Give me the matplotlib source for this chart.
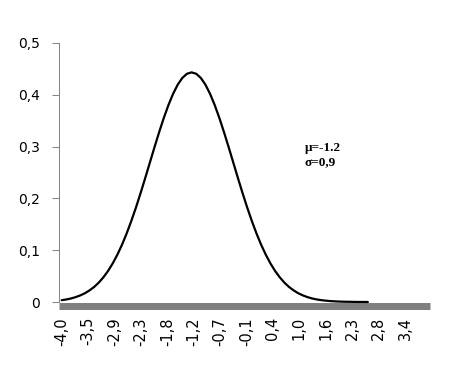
import numpy as np
import matplotlib
matplotlib.use("Agg")
import matplotlib.pyplot as plt

# Data (density curve, mu=-1.2, sigma=0.9)
x_vals = [-4.0, -3.9, -3.8, -3.7, -3.6, -3.5, -3.4, -3.3, -3.2, -3.1,
          -3.0, -2.9, -2.8, -2.7, -2.6, -2.5, -2.4, -2.3, -2.2, -2.1,
          -2.0, -1.9, -1.8, -1.7, -1.6, -1.5, -1.4, -1.3, -1.2, -1.1,
          -1.0, -0.9, -0.8, -0.7, -0.6, -0.5, -0.4, -0.3, -0.2, -0.1,
          0.0, 0.1, 0.2, 0.3, 0.4, 0.5, 0.6, 0.7, 0.8, 0.9,
          1.0, 1.1, 1.2, 1.3, 1.4, 1.5, 1.6, 1.7, 1.8, 1.9,
          2.0, 2.1, 2.2, 2.3, 2.4, 2.5, 2.6]
y_vals = [0.0035, 0.0049, 0.0068, 0.0094, 0.0127, 0.0169, 0.0224, 0.0291, 0.0375, 0.0478,
          0.0600, 0.0745, 0.0913, 0.1105, 0.1322, 0.1562, 0.1822, 0.2100, 0.2391, 0.2689,
          0.2987, 0.3276, 0.3550, 0.3799, 0.4016, 0.4194, 0.4325, 0.4406, 0.4433, 0.4406,
          0.4325, 0.4194, 0.4016, 0.3799, 0.3550, 0.3276, 0.2987, 0.2689, 0.2391, 0.2100,
          0.1822, 0.1562, 0.1322, 0.1105, 0.0913, 0.0745, 0.0600, 0.0478, 0.0375, 0.0291,
          0.0224, 0.0169, 0.0127, 0.0094, 0.0068, 0.0049, 0.0035, 0.0025, 0.0017, 0.0012,
          0.0008, 0.0005, 0.0004, 0.0002, 0.0001, 0.0001, 0.0000]

x_tick_labels = ["-4,0", "-3,5", "-2,9", "-2,3", "-1,8", "-1,2", "-0,7",
                 "-0,1", "0,4", "1,0", "1,6", "2,3", "2,8", "3,4"]
y_ticks = [0, 0.1, 0.2, 0.3, 0.4, 0.5]
y_tick_labels = ["0", "0,1", "0,2", "0,3", "0,4", "0,5"]
annotation = "\u03bc=-1.2\n\u03c3=0,9"

W, H = 452, 381
fig = plt.figure(figsize=(W / 100, H / 100), dpi=100)
ax = fig.add_axes([59 / W, (H - 302) / H, (430 - 59) / W, (302 - 43) / H])

# spines first (set_position resets tick styling)
for s in ["top", "right"]:
    ax.spines[s].set_visible(False)
ax.spines["bottom"].set_position(("outward", 2.52))
ax.spines["left"].set_color("#868686")
ax.spines["left"].set_linewidth(0.75)
ax.spines["bottom"].set_color("#808080")
ax.spines["bottom"].set_linewidth(5.04)
ax.spines["bottom"].set_capstyle("butt")

ax.plot(x_vals, y_vals, color="black", lw=1.6, clip_on=False, zorder=5,
        solid_joinstyle="round", solid_capstyle="round")

ax.set_xlim(-4.058, 3.94)
ax.set_ylim(0, 0.5)

tick_pos = np.linspace(-4.0, 3.4, len(x_tick_labels))
ax.set_xticks(tick_pos)
ax.set_xticklabels(x_tick_labels, rotation=90, fontsize=10.5,
                   family="DejaVu Sans", va="top", ha="center")
ax.tick_params(axis="x", length=0, pad=8.3)

ax.set_yticks(y_ticks)
ax.set_yticklabels(y_tick_labels, fontsize=10, family="DejaVu Sans")
ax.tick_params(axis="y", length=5, width=0.75, color="#868686", pad=8.5)

ax.text(305 / W, (H - 155) / H, annotation, transform=fig.transFigure,
        fontsize=9.5, family="Liberation Serif", fontweight="bold",
        ha="left", va="center", linespacing=1.2)

fig.savefig("out.png", dpi=100)
